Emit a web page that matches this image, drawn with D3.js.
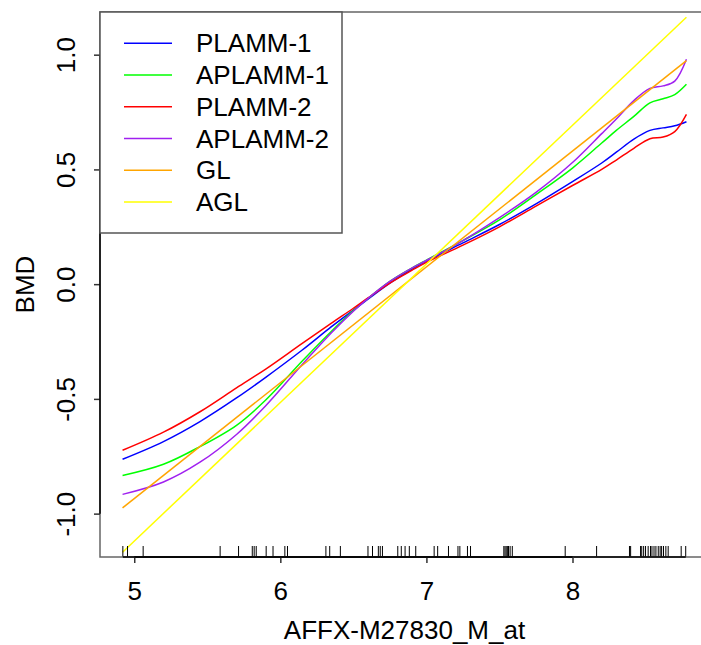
<!DOCTYPE html>
<head>
<meta charset="utf-8">
<title></title>
<style>
body { margin: 0; background: #fff; }
text {
  fill: #000;
  font-family: "Liberation Sans", Arial, sans-serif;
  font-size: 26px;
}
path.curve {
  fill: none;
  stroke-width: 1.5px;
}
</style>
</head>
<body>
<script src="https://d3js.org/d3.v7.min.js"></script>
<script>

var xGrid = [4.92, 5.2, 5.45, 5.7, 5.9, 6.15, 6.35, 6.5, 6.6, 6.75, 6.9, 7.0, 7.25, 7.5, 7.75, 8.0, 8.2, 8.3, 8.42, 8.53, 8.62, 8.7, 8.78];

var plamm1  = [-0.763, -0.686, -0.599, -0.496, -0.406, -0.287, -0.185, -0.113, -0.065, 0.005, 0.065, 0.10, 0.18, 0.26, 0.35, 0.447, 0.528, 0.575, 0.632, 0.670, 0.681, 0.690, 0.708];
var aplamm1 = [-0.834, -0.785, -0.708, -0.615, -0.505, -0.335, -0.205, -0.115, -0.062, 0.012, 0.07, 0.105, 0.19, 0.28, 0.39, 0.506, 0.615, 0.67, 0.731, 0.790, 0.808, 0.826, 0.871];
var plamm2  = [-0.724, -0.645, -0.556, -0.452, -0.370, -0.258, -0.170, -0.105, -0.06, 0.005, 0.06, 0.095, 0.17, 0.25, 0.34, 0.43, 0.50, 0.541, 0.592, 0.634, 0.641, 0.665, 0.740];
var aplamm2 = [-0.916, -0.862, -0.776, -0.655, -0.530, -0.350, -0.212, -0.118, -0.062, 0.012, 0.07, 0.103, 0.19, 0.29, 0.40, 0.53, 0.656, 0.72, 0.80, 0.853, 0.864, 0.885, 0.980];

// straight lines: end points only
var lineX = [4.92, 8.78];
var gl    = [-0.975, 0.974];
var agl   = [-1.168, 1.163];

var seriesNames  = ["PLAMM-1", "APLAMM-1", "PLAMM-2", "APLAMM-2", "GL", "AGL"];
var seriesColors = ["#0000ff", "#00ff00", "#ff0000", "#a020f0", "#ffa500", "#ffff00"];

// rug of observed x values
var rugX = [4.922, 4.954, 5.061, 5.588, 5.714, 5.808, 5.821, 5.835, 5.903, 5.950, 6.031, 6.049,
            6.312, 6.338, 6.411, 6.600, 6.631, 6.671, 6.684, 6.699, 6.804, 6.828, 6.854, 6.883,
            6.927, 7.053, 7.077, 7.151, 7.216, 7.229, 7.281, 7.302, 7.530, 7.538, 7.546, 7.554,
            7.562, 7.573, 7.588, 7.950, 8.165, 8.390, 8.398, 8.466, 8.474, 8.487, 8.500, 8.518,
            8.534, 8.544, 8.558, 8.571, 8.587, 8.600, 8.610, 8.623, 8.639, 8.655, 8.744, 8.775];

var xTicks = [5, 6, 7, 8];
var yTicks = [-1.0, -0.5, 0.0, 0.5, 1.0];

var width = 701,
    height = 645;

var plotLeft = 100, plotRight = 709, plotTop = 12, plotBottom = 557;

var x = d3.scaleLinear().domain([4.7656, 8.9344]).range([plotLeft, plotRight]);
var y = d3.scaleLinear().domain([-1.189, 1.186]).range([plotBottom, plotTop]);

var svg = d3.select("body").append("svg")
    .attr("width", width)
    .attr("height", height);

var series = [
  { xs: xGrid, ys: plamm1 },
  { xs: xGrid, ys: aplamm1 },
  { xs: xGrid, ys: plamm2 },
  { xs: xGrid, ys: aplamm2 },
  { xs: lineX, ys: gl },
  { xs: lineX, ys: agl }
];

var line = d3.line()
    .x(function(d) { return x(d[0]); })
    .y(function(d) { return y(d[1]); })
    .curve(d3.curveCatmullRom.alpha(0.5));

svg.append("g")
  .selectAll("path")
  .data(series)
  .enter()
  .append("path")
  .attr("class", "curve")
  .style("stroke", function(d, i) { return seriesColors[i]; })
  .attr("d", function(d) {
    return line(d.xs.map(function(v, j) { return [v, d.ys[j]]; }));
  });

// rug
svg.append("g")
  .selectAll("line")
  .data(rugX)
  .enter()
  .append("line")
  .attr("x1", function(d) { return x(d); })
  .attr("x2", function(d) { return x(d); })
  .attr("y1", plotBottom)
  .attr("y2", plotBottom - 11)
  .style("stroke", "#000")
  .style("stroke-width", 1);

// plot box
svg.append("rect")
  .attr("x", plotLeft)
  .attr("y", plotTop)
  .attr("width", plotRight - plotLeft)
  .attr("height", plotBottom - plotTop)
  .style("fill", "none")
  .style("stroke", "#666")
  .style("stroke-width", 1.5);

// rug baseline, darker between first and last mark
svg.append("line")
  .attr("x1", x(d3.min(rugX)))
  .attr("x2", x(d3.max(rugX)))
  .attr("y1", plotBottom)
  .attr("y2", plotBottom)
  .style("stroke", "#000")
  .style("stroke-width", 1.5);

// x axis
var xAxis = svg.append("g")
  .attr("transform", "translate(0," + plotBottom + ")")
  .call(d3.axisBottom(x).tickValues(xTicks).tickSize(6).tickPadding(19)
    .tickFormat(d3.format("d")));
xAxis.select(".domain").remove();
xAxis.selectAll(".tick line").style("stroke", "#333").style("stroke-width", 1.5);
xAxis.selectAll("text")
  .style("font-size", "26px")
  .style("font-family", '"Liberation Sans", Arial, sans-serif');
xAxis.append("line")
  .attr("x1", x(xTicks[0]))
  .attr("x2", x(xTicks[xTicks.length - 1]))
  .style("stroke", "#000")
  .style("stroke-width", 1.5);

// y axis
var yAxis = svg.append("g")
  .attr("transform", "translate(" + plotLeft + ",0)")
  .call(d3.axisLeft(y).tickValues(yTicks).tickSize(6)
    .tickFormat(d3.format(".1f")));
yAxis.select(".domain").remove();
yAxis.selectAll(".tick line").style("stroke", "#333").style("stroke-width", 1.5);
yAxis.selectAll("text")
  .attr("transform", "rotate(-90)")
  .attr("x", 0)
  .attr("y", -25)
  .attr("dy", 0)
  .style("text-anchor", "middle")
  .style("font-size", "26px")
  .style("font-family", '"Liberation Sans", Arial, sans-serif')
  .text(function(d) { return d3.format(".1f")(d).replace("\u2212", "-"); });
yAxis.append("line")
  .attr("y1", y(yTicks[0]))
  .attr("y2", y(yTicks[yTicks.length - 1]))
  .style("stroke", "#000")
  .style("stroke-width", 1.5);

// axis titles
svg.append("text")
  .attr("x", (plotLeft + plotRight) / 2)
  .attr("y", 639)
  .attr("text-anchor", "middle")
  .text("AFFX-M27830_M_at");

svg.append("text")
  .attr("transform", "translate(34," + ((plotTop + plotBottom) / 2) + ") rotate(-90)")
  .attr("text-anchor", "middle")
  .text("BMD");

// legend
var legend = svg.append("g");
legend.append("rect")
  .attr("x", plotLeft)
  .attr("y", plotTop)
  .attr("width", 242)
  .attr("height", 221)
  .style("fill", "#fff")
  .style("stroke", "#555")
  .style("stroke-width", 1.5);

var item = legend.selectAll(".item")
  .data(seriesNames)
  .enter()
  .append("g")
  .attr("class", "item")
  .attr("transform", function(d, i) { return "translate(0," + (43.3 + i * 31.75) + ")"; });

item.append("line")
  .attr("x1", 124)
  .attr("x2", 172)
  .style("stroke", function(d, i) { return seriesColors[i]; })
  .style("stroke-width", 1.5);

item.append("text")
  .attr("x", 196)
  .attr("dy", "0.35em")
  .text(function(d) { return d; });

</script>
</body>
</html>
